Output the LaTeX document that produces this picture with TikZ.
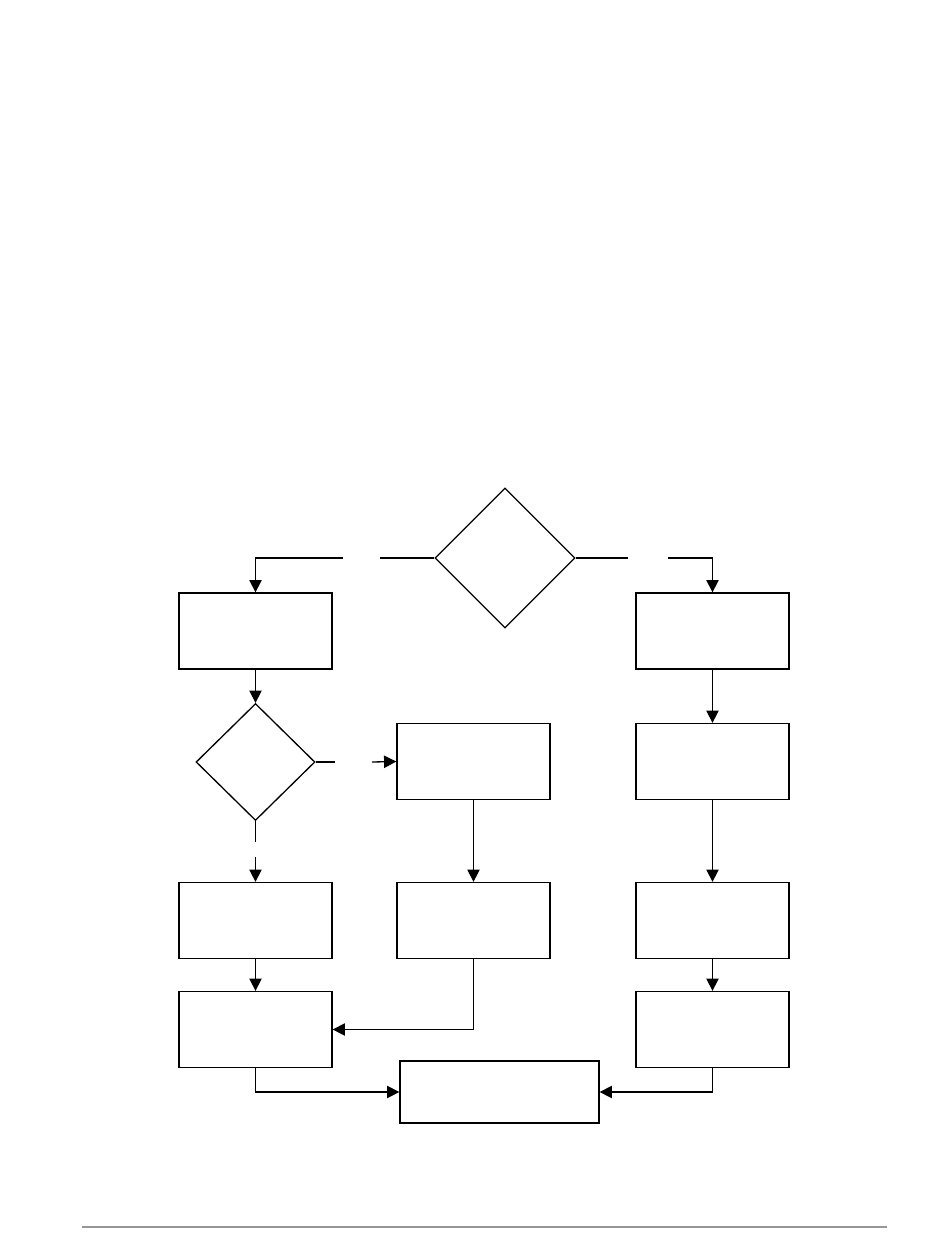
\documentclass[tikz,border=0pt]{standalone}
\usepackage{tikz}
\usetikzlibrary{arrows.meta,shapes.geometric}
\definecolor{ruleline}{RGB}{150,150,150}
\tikzset{
  box/.style={
    draw=black,
    fill=white,
    line width=0.75pt,
    inner sep=0pt,
    minimum width=3.06cm,
    minimum height=1.52cm
  },
  widebox/.style={
    box,
    minimum width=3.98cm,
    minimum height=1.24cm
  },
  decision/.style={
    diamond,
    draw=black,
    fill=white,
    line width=0.75pt,
    inner sep=0pt
  },
  line/.style={line width=0.75pt},
  arrow/.style={-{Triangle[length=7pt,width=7pt]}, line width=0.75pt}
}

\begin{document}
\begin{tikzpicture}[x=0.02cm, y=-0.02cm]
  \useasboundingbox (0,0) rectangle (950,1254);

  % decisions
  \node[decision, minimum width=2.8cm, minimum height=2.8cm] (top) at (505,558) {};
  \node[decision, minimum width=2.38cm, minimum height=2.34cm] (dec) at (255.5,762) {};

  % left column
  \node[box] (l1) at (255.5,631) {};
  \node[box] (l2) at (255.5,920.5) {};
  \node[box] (l3) at (255.5,1029.5) {};

  % middle column
  \node[box] (m1) at (473.5,761.5) {};
  \node[box] (m2) at (473.5,920.5) {};
  \node[widebox] (end) at (499.5,1092) {};

  % right column
  \node[box] (r1) at (712.5,631) {};
  \node[box] (r2) at (712.5,761.5) {};
  \node[box] (r3) at (712.5,920.5) {};
  \node[box] (r4) at (712.5,1029.5) {};

  % gaps left where the branch labels were
  \coordinate (tl1) at (380,558);
  \coordinate (tl2) at (343,558);
  \coordinate (tr1) at (628,558);
  \coordinate (tr2) at (668,558);
  \coordinate (dr1) at (335,762);
  \coordinate (dr2) at (372,762);
  \coordinate (db1) at (255.5,842);
  \coordinate (db2) at (255.5,857);

  \draw[line] (top.west) -- (tl1);
  \draw[arrow] (tl2) -| (l1.north);
  \draw[line] (top.east) -- (tr1);
  \draw[arrow] (tr2) -| (r1.north);

  \draw[arrow] (l1) -- (dec);
  \draw[line] (dec.east) -- (dr1);
  \draw[arrow] (dr2) -- (m1.west);
  \draw[line] (dec.south) -- (db1);
  \draw[arrow] (db2) -- (l2.north);

  \draw[arrow] (m1) -- (m2);
  \draw[arrow] (l2) -- (l3);
  \draw[arrow] (m2.south) |- (l3.east);

  \draw[arrow] (r1) -- (r2);
  \draw[arrow] (r2) -- (r3);
  \draw[arrow] (r3) -- (r4);

  \draw[arrow] (l3.south) |- (end.west);
  \draw[arrow] (r4.south) |- (end.east);

  % page rule
  \draw[ruleline, line width=1.1pt] (82,1227) -- (887,1227);
\end{tikzpicture}
\end{document}
